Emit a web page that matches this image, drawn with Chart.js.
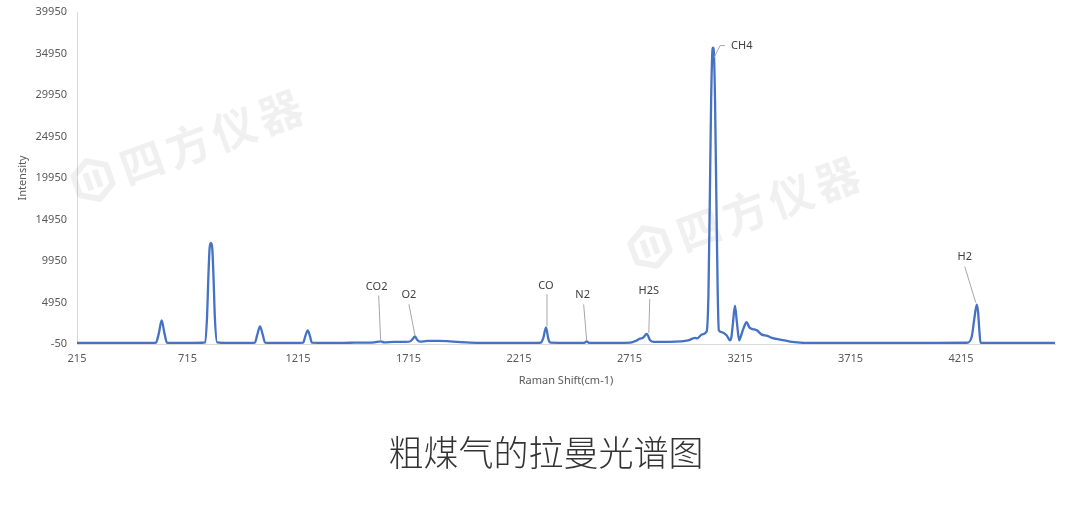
<!DOCTYPE html>
<html>
<head>
<meta charset="utf-8">
<script src="https://cdn.jsdelivr.net/npm/chart.js@4.4.0/dist/chart.umd.min.js"></script>
<style>
html,body{margin:0;padding:0;background:#fff;}
#wrap{position:relative;width:1080px;height:509px;overflow:hidden;}
#raman__title{position:absolute;left:0;top:429px;width:1092px;text-align:center;font-family:'Noto Sans CJK SC';font-weight:300;font-size:35px;line-height:44px;color:#333;}
</style>
</head>
<body>
<div id="wrap">
<canvas id="raman__canvas-chart" width="1080" height="509"></canvas>
<div id="raman__title">粗煤气的拉曼光谱图</div>
</div>
<script>
// 粗煤气拉曼光谱 — значения
let ramanShift = [
	215,300,400,500,560,572,585,598,611,622,640,700,780,
	794,803,810,815,821,827,832,839,849,900,980,
	1020,1031,1043,1055,1066,1120,1200,1238,1248,1259,1269,1278,1350,
	1450,1520,1560,1589,1605,1650,1700,1722,1735,1744,1753,1767,
	1800,1850,1890,1940,1993,2100,2200,2300,2313,2325,2337,2348,2358,
	2450,2510,2521,2532,2650,2720,2745,2762,2776,2793,2808,2826,2880,
	2944,2980,3000,3011,3020,3043,3064,3072,3078,3084,3089,3093,3097,
	3102,3108,3114,3119,3131,3154,3170,3176,3183,3192,3201,3211,3219,
	3230,3245,3256,3268,3280,3291,3313,3336,3359,3396,3441,3487,3532,
	3700,3900,4100,4241,4263,4275,4286,4292,4298,4303,4400,4640
];
let intensity = [
	80,70,90,80,90,120,1200,2800,1200,120,80,90,100,
	150,3000,8500,11500,12130,11500,8500,3000,150,90,80,
	120,1100,2080,1100,120,80,90,110,900,1600,900,110,80,
	100,120,150,260,140,200,200,250,600,880,500,230,
	320,330,300,200,120,90,80,90,110,700,1960,500,110,
	80,90,270,90,90,120,350,600,700,1160,400,200,210,
	260,380,600,700,620,1100,1480,6000,17000,29000,34800,35660,34800,
	29000,17000,6000,1600,1380,1000,400,800,2500,4580,2500,400,900,
	1800,2570,2000,1770,1700,1600,1080,960,690,480,240,120,80,
	70,70,80,100,800,3000,4700,3800,1500,100,80,80
];

let xTicks = [215,715,1215,1715,2215,2715,3215,3715,4215];
let yTicks = [-50,4950,9950,14950,19950,24950,29950,34950,39950];

let peakNames = ['CO2','O2','CO','N2','H2S','CH4','H2'];
let peakShifts = [1589,1744,2337,2521,2793,3093,4286];
let peakValues = [260,880,1960,270,1160,35660,4700];

// смещения подписей и выносок в пикселях
const labelStyle = {
	CO2: {text:[-4,-55], line:[[-2,-46],[0,-1]]},
	O2:  {text:[-6,-41], line:[[-6,-32],[0,-1]]},
	CO:  {text:[0,-41],  line:[[1,-33],[1,-1]]},
	N2:  {text:[-4,-46], line:[[-3,-37],[0,-1]]},
	H2S: {text:[2,-43],  line:[[3,-35],[2,-1]]},
	CH4: {text:[18,-2],  line:[[1,10],[7,-2],[12,-2]], align:'left'},
	H2:  {text:[-12,-48], line:[[-12,-38],[-1,-2]]}
};

const peakLabels = {
	id:'peakLabels',
	afterDatasetsDraw(chart){
		const {ctx, scales:{x,y}} = chart;
		ctx.save();
		ctx.font = '11px "Noto Sans"';
		ctx.textBaseline = 'middle';
		peakNames.forEach((name,i)=>{
			let px = x.getPixelForValue(peakShifts[i]),
				py = y.getPixelForValue(peakValues[i]),
				st = labelStyle[name];
			ctx.strokeStyle = '#a6a6a6';
			ctx.lineWidth = 1;
			ctx.beginPath();
			st.line.forEach(([dx,dy],k)=> k ? ctx.lineTo(px+dx,py+dy) : ctx.moveTo(px+dx,py+dy));
			ctx.stroke();
			ctx.fillStyle = '#404040';
			ctx.textAlign = st.align || 'center';
			ctx.fillText(name, px+st.text[0], py+st.text[1]);
		});
		ctx.restore();
	}
};

// водяной знак 四方仪器
function drawMark(ctx, cx, cy){
	ctx.save();
	ctx.translate(cx,cy);
	ctx.rotate(-20*Math.PI/180);
	ctx.strokeStyle = 'rgba(0,0,0,0.06)';
	ctx.fillStyle = 'rgba(0,0,0,0.06)';
	ctx.lineWidth = 6;
	ctx.lineJoin = 'round';
	ctx.beginPath();
	for (let k=0;k<6;k++){
		let a = Math.PI/6 + k*Math.PI/3;
		let xx = 20*Math.cos(a), yy = 20*Math.sin(a);
		k ? ctx.lineTo(xx,yy) : ctx.moveTo(xx,yy);
	}
	ctx.closePath();
	ctx.stroke();
	ctx.beginPath();
	ctx.moveTo(-5,-9); ctx.lineTo(-5,9);
	ctx.moveTo(5,-9); ctx.lineTo(5,9);
	ctx.stroke();
	ctx.font = 'bold 44px "Noto Sans CJK SC"';
	ctx.letterSpacing = '5px';
	ctx.textBaseline = 'middle';
	ctx.textAlign = 'left';
	ctx.fillText('四方仪器', 30, 0);
	ctx.restore();
}
const watermark = {
	id:'watermark',
	beforeDatasetsDraw(chart){
		drawMark(chart.ctx, 93, 180);
		drawMark(chart.ctx, 650, 247);
	}
};

let ctx = document.getElementById('raman__canvas-chart').getContext('2d');
let points = ramanShift.map((s,i)=> ({x:s, y:intensity[i]}));
const tickFont = {family:'"Noto Sans"', size:11};

let chart = new Chart(ctx, {
	type:'line',
	data:{
		datasets:[{
			label:'Intensity',
			data:points,
			borderColor:'#4472C4',
			borderWidth:2.3,
			pointRadius:0,
			cubicInterpolationMode:'monotone',
			fill:false
		}]
	},
	options:{
		responsive:false,
		animation:false,
		layout:{padding:{left:8, right:25, top:12, bottom:105}},
		plugins:{
			legend:{display:false},
			tooltip:{enabled:false}
		},
		scales:{
			x:{
				type:'linear',
				min:215,
				max:4640,
				afterBuildTicks: s => { s.ticks = xTicks.map(v=>({value:v})); },
				afterFit: s => { s.height = 60; s.paddingLeft = 0; s.paddingRight = 0; },
				grid:{color:'transparent', drawTicks:false},
				border:{color:'#d9d9d9', width:1},
				ticks:{color:'#595959', font:tickFont, padding:8, maxRotation:0, autoSkip:false, callback: v => String(v)},
				title:{display:true, text:'Raman Shift(cm-1)', color:'#595959', font:{family:'"Noto Sans"', size:11}, padding:{top:0, bottom:17}}
			},
			y:{
				min:-50,
				max:39950,
				afterBuildTicks: s => { s.ticks = yTicks.map(v=>({value:v})); },
				afterFit: s => { s.width = 69; s.paddingTop = 0; s.paddingBottom = 0; },
				grid:{color:'transparent', drawTicks:false},
				border:{color:'#d9d9d9', width:1},
				ticks:{color:'#595959', font:tickFont, padding:10, autoSkip:false, callback: v => String(v)},
				title:{display:true, text:'Intensity', color:'#595959', font:{family:'"Noto Sans"', size:11}, padding:{top:8, bottom:0}}
			}
		}
	},
	plugins:[watermark, peakLabels]
});
</script>
</body>
</html>
